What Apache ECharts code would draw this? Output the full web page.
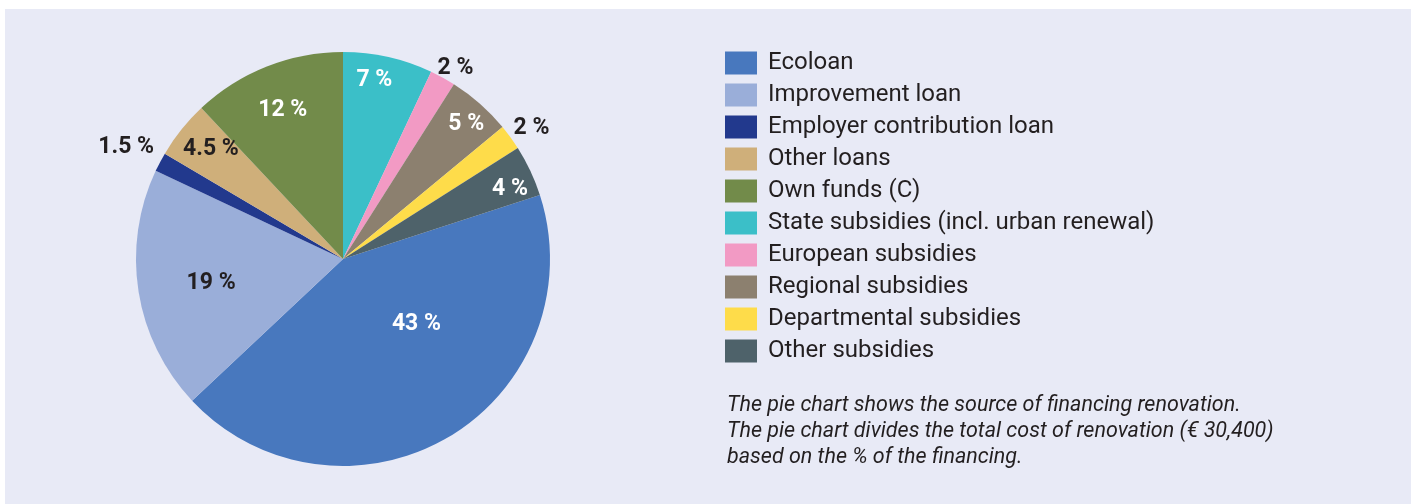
<!DOCTYPE html>
<html>
<head>
<meta charset="utf-8">
<script src="https://cdn.jsdelivr.net/npm/echarts@6/dist/echarts.min.js"></script>
<style>
  html, body { margin: 0; padding: 0; background: #ffffff; }
  #chart { width: 1416px; height: 504px; }
</style>
</head>
<body>
<div id="chart"></div>
<script>
// Sources of financing for a renovation (share of total cost, %)
const categories = [
  'Ecoloan',
  'Improvement loan',
  'Employer contribution loan',
  'Other loans',
  'Own funds (C)',
  'State subsidies (incl. urban renewal)',
  'European subsidies',
  'Regional subsidies',
  'Departmental subsidies',
  'Other subsidies'
];
const shares = [43, 19, 1.5, 4.5, 12, 7, 2, 5, 2, 4];

const colors = [
  '#4878BE', '#9AAED9', '#22398D', '#CFAF7A', '#728B4A',
  '#3BBFC8', '#F29AC4', '#8C806F', '#FEDC4A', '#4E626A'
];
const labelColors = [
  '#ffffff', '#231F20', '#231F20', '#231F20', '#ffffff',
  '#ffffff', '#231F20', '#ffffff', '#231F20', '#ffffff'
];
// label distance from centre (fraction of radius) and angular nudge in degrees
const labelRadius = [0.466, 0.645, 1.185, 0.839, 0.79, 0.89, 1.083, 0.891, 1.116, 0.88];
const labelAngleShift = [19, 0, 0, -1.8, 0, 2.8, -1.3, -0.5, -0.7, -1.6];

const note = 'The pie chart shows the source of financing renovation.\n' +
  'The pie chart divides the total cost of renovation (\u20AC 30,400)\n' +
  'based on the % of the financing.';

const CX = 343, CY = 259, R = 207, START = 18;
// digits sit above the centre of the text box, so nudge labels down a little
const LABEL_DY = 3;

const total = shares.reduce((a, b) => a + b, 0);
const midAngles = [];
let acc = START;
shares.forEach(v => {
  const sweep = v / total * 360;
  midAngles.push(acc - sweep / 2);
  acc -= sweep;
});

const chart = echarts.init(document.getElementById('chart'), null, { renderer: 'canvas' });

chart.setOption({
  backgroundColor: '#ffffff',
  animation: false,
  color: colors,
  graphic: [{
    type: 'rect',
    z: -10,
    silent: true,
    shape: { x: 5, y: 9, width: 1406, height: 495 },
    style: { fill: '#E8EAF6' }
  }],
  title: {
    text: note,
    left: 722,
    top: 388,
    textStyle: {
      fontFamily: 'Roboto',
      fontStyle: 'italic',
      fontWeight: 'normal',
      fontSize: 21.5,
      lineHeight: 26,
      color: '#231F20'
    }
  },
  legend: {
    orient: 'vertical',
    left: 720,
    top: 46,
    icon: 'rect',
    itemWidth: 32,
    itemHeight: 23,
    itemGap: 8,
    data: categories,
    textStyle: {
      fontFamily: 'Roboto',
      fontSize: 24,
      lineHeight: 24,
      color: '#231F20',
      padding: [0, 0, 0, 6]
    }
  },
  series: [{
    type: 'pie',
    center: [CX, CY],
    radius: [0, R],
    startAngle: START,
    clockwise: true,
    avoidLabelOverlap: false,
    emphasis: { disabled: true },
    itemStyle: { borderWidth: 0 },
    labelLine: { show: false },
    label: {
      show: true,
      position: 'inside',
      formatter: '{c} %',
      fontFamily: 'Roboto',
      fontWeight: 'bold',
      fontSize: 23
    },
    labelLayout: function (p) {
      const i = p.dataIndex;
      const a = (midAngles[i] + labelAngleShift[i]) * Math.PI / 180;
      const r = labelRadius[i] * R;
      return {
        x: CX + r * Math.cos(a),
        y: CY - r * Math.sin(a) + LABEL_DY,
        align: 'center',
        verticalAlign: 'middle'
      };
    },
    data: categories.map((name, i) => ({
      name: name,
      value: shares[i],
      label: { color: labelColors[i] }
    }))
  }]
});
</script>
</body>
</html>
